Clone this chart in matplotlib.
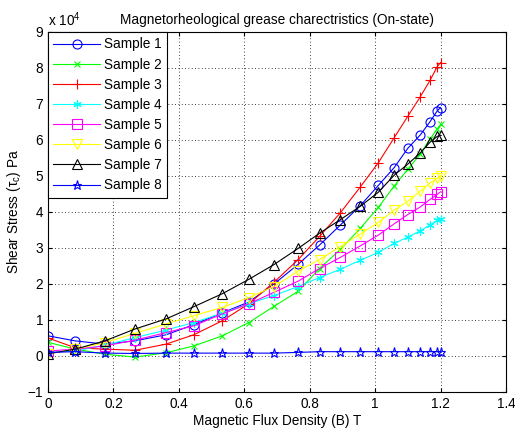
import matplotlib
matplotlib.use("Agg")
import matplotlib.pyplot as plt

plt.rcParams["font.family"] = ["Liberation Sans", "DejaVu Sans"]
plt.rcParams["mathtext.fontset"] = "custom"
plt.rcParams["mathtext.rm"] = "Liberation Sans"
plt.rcParams["mathtext.it"] = "Liberation Sans"

# magnetic flux density (T)
flux = [0.0, 0.083, 0.174, 0.266, 0.361, 0.446, 0.533, 0.614, 0.691, 0.765,
        0.83, 0.894, 0.955, 1.01, 1.058, 1.1, 1.138, 1.168, 1.19, 1.2]

# shear stress, x 10^4 Pa
sample1 = [0.56, 0.42, 0.33, 0.42, 0.59, 0.87, 1.2, 1.5, 2.0, 2.55,
           3.08, 3.64, 4.18, 4.74, 5.23, 5.77, 6.14, 6.51, 6.81, 6.9]
sample2 = [0.38, 0.19, 0.05, -0.03, 0.09, 0.28, 0.56, 0.93, 1.38, 1.8,
           2.43, 2.96, 3.55, 4.13, 4.72, 5.19, 5.61, 6.03, 6.31, 6.43]
sample3 = [0.5, 0.23, 0.19, 0.16, 0.33, 0.59, 0.98, 1.45, 2.05, 2.68,
           3.32, 3.98, 4.7, 5.37, 6.06, 6.66, 7.2, 7.66, 8.04, 8.15]
sample4 = [0.1, 0.14, 0.3, 0.51, 0.72, 0.93, 1.19, 1.45, 1.68, 1.93,
           2.18, 2.41, 2.66, 2.88, 3.13, 3.3, 3.48, 3.64, 3.77, 3.8]
sample5 = [0.14, 0.19, 0.28, 0.44, 0.65, 0.84, 1.17, 1.45, 1.77, 2.08,
           2.43, 2.74, 3.06, 3.36, 3.67, 3.93, 4.14, 4.35, 4.49, 4.56]
sample6 = [0.06, 0.19, 0.37, 0.63, 0.89, 1.12, 1.35, 1.62, 1.93, 2.36,
           2.68, 3.04, 3.39, 3.71, 4.05, 4.3, 4.58, 4.81, 4.93, 5.0]
sample7 = [0.06, 0.19, 0.42, 0.75, 1.03, 1.37, 1.73, 2.13, 2.54, 2.99,
           3.41, 3.79, 4.16, 4.55, 5.02, 5.33, 5.64, 5.94, 6.1, 6.13]
sample8 = [0.1, 0.12, 0.08, 0.07, 0.08, 0.08, 0.08, 0.08, 0.08, 0.1,
           0.12, 0.12, 0.12, 0.12, 0.12, 0.12, 0.12, 0.12, 0.12, 0.12]

series = [sample1, sample2, sample3, sample4, sample5, sample6, sample7, sample8]
labels = ["Sample 1", "Sample 2", "Sample 3", "Sample 4",
          "Sample 5", "Sample 6", "Sample 7", "Sample 8"]
colors = ["#0000ff", "#00ff00", "#ff0000", "#00ffff",
          "#ff00ff", "#ffff00", "#000000", "#0000ff"]
markers = ["o", "x", "+", (6, 2, 0), "s", "v", "^", "*"]
msizes = [6.5, 4.5, 7, 6, 6.5, 6.5, 6.5, 6.5]

FS = 9.8

fig = plt.figure(figsize=(5.15, 4.32), dpi=100)
ax = fig.add_axes([0.0932, 0.0926, 0.8893, 0.8334])

for ys, lab, col, mk, ms in zip(series, labels, colors, markers, msizes):
    ax.plot(flux, ys, color=col, marker=mk, markersize=ms, linewidth=0.8,
            markerfacecolor="none", markeredgecolor=col, markeredgewidth=0.8,
            label=lab)

ax.set_xlim(0, 1.4)
ax.set_ylim(-1, 9)
ax.set_xticks([0, 0.2, 0.4, 0.6, 0.8, 1, 1.2, 1.4])
ax.set_xticklabels(["0", "0.2", "0.4", "0.6", "0.8", "1", "1.2", "1.4"])
ax.set_yticks(range(-1, 10))
ax.grid(True, color="black", linestyle=(0, (1, 3)), linewidth=0.6)
ax.tick_params(direction="in", top=True, right=True, labelsize=FS, length=3)
for sp in ax.spines.values():
    sp.set_linewidth(0.8)

ax.set_title("Magnetorheological grease charectristics (On-state)", fontsize=FS, pad=6)
ax.set_xlabel("Magnetic Flux Density (B) T", fontsize=FS, labelpad=2)
ax.set_ylabel("Shear Stress (\u03c4$_{c}$) Pa", fontsize=FS, labelpad=3)
ax.text(0.0, 1.008, "x 10$^{4}$", transform=ax.transAxes, fontsize=FS,
        ha="left", va="bottom")

leg = ax.legend(loc="upper left", fontsize=FS, fancybox=False, framealpha=1,
                edgecolor="black", borderaxespad=0, handlelength=3.4,
                handletextpad=0.3, labelspacing=0.45, borderpad=0.4)
leg.get_frame().set_linewidth(0.8)

fig.savefig("out.png", dpi=100)
